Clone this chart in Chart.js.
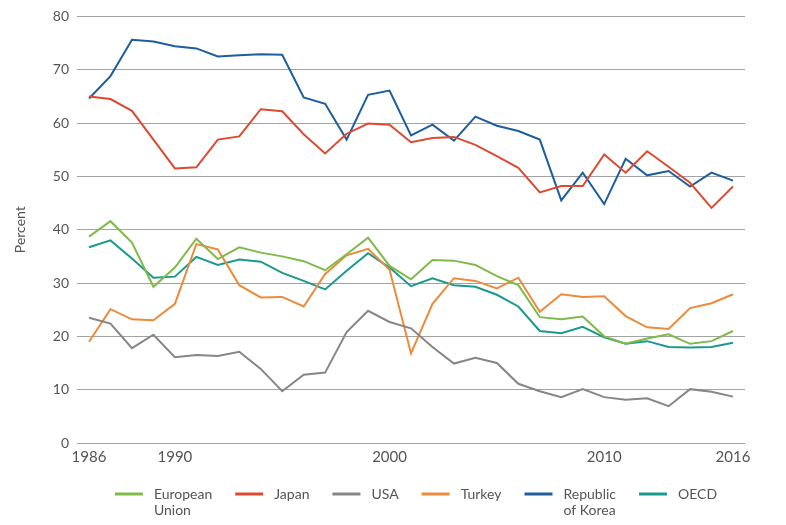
<!DOCTYPE html>
<html>
<head>
<meta charset="utf-8">
<script src="https://cdn.jsdelivr.net/npm/chart.js@4"></script>
<style>
  html, body { margin: 0; padding: 0; background: #fff; }
  #wrap { width: 786px; height: 525px; }
</style>
</head>
<body>
<div id="wrap"><canvas id="myChart" width="786" height="525"></canvas></div>
<script>
const years = [1986,1987,1988,1989,1990,1991,1992,1993,1994,1995,1996,1997,1998,1999,2000,
               2001,2002,2003,2004,2005,2006,2007,2008,2009,2010,2011,2012,2013,2014,2015,2016];
const yearTicks = [1986, 1990, 2000, 2010, 2016];

const europeanUnion = [38.7,41.6,37.6,29.3,32.9,38.3,34.5,36.7,35.7,35.0,34.1,32.4,35.4,38.5,33.2,
                       30.7,34.3,34.2,33.4,31.3,29.6,23.6,23.2,23.7,20.0,18.6,19.6,20.4,18.6,19.1,21.0];
const japan = [65.0,64.5,62.3,56.9,51.5,51.7,56.9,57.5,62.6,62.2,57.9,54.3,58.0,59.9,59.7,
               56.4,57.2,57.4,55.9,53.8,51.6,47.0,48.2,48.2,54.1,50.7,54.7,51.8,48.8,44.1,48.1];
const usa = [23.5,22.4,17.8,20.3,16.1,16.5,16.3,17.1,13.9,9.7,12.8,13.2,20.8,24.8,22.7,
             21.5,18.0,14.9,16.0,15.0,11.1,9.7,8.6,10.1,8.6,8.1,8.4,6.9,10.1,9.6,8.7];
const turkey = [19.0,25.1,23.2,23.0,26.1,37.3,36.3,29.6,27.3,27.4,25.6,31.7,35.2,36.4,32.5,
                16.8,26.1,30.9,30.4,29.0,31.0,24.6,27.9,27.4,27.5,23.8,21.7,21.4,25.3,26.2,27.9];
const korea = [64.6,68.8,75.6,75.3,74.4,74.0,72.5,72.7,72.9,72.8,64.8,63.6,56.9,65.3,66.1,
               57.7,59.7,56.7,61.2,59.5,58.5,56.9,45.5,50.7,44.8,53.3,50.2,51.0,48.1,50.7,49.2];
const oecd = [36.7,38.0,34.6,31.0,31.2,34.9,33.4,34.4,34.0,31.9,30.4,28.8,32.3,35.6,32.9,
              29.4,30.9,29.6,29.3,27.8,25.6,21.0,20.6,21.8,19.8,18.6,19.1,18.0,17.9,18.0,18.8];

const seriesNames = [['European', 'Union'], ['Japan'], ['USA'], ['Turkey'], ['Republic', 'of Korea'], ['OECD']];
const seriesValues = [europeanUnion, japan, usa, turkey, korea, oecd];
const seriesColors = ['#7fba4b', '#db4a31', '#868686', '#eb8b3b', '#1d5e9d', '#1a9a8d'];

const textColor = '#555';
const fontFamily = 'Lato, "Open Sans", sans-serif';

function toPoints(values) {
    return values.map((v, i) => ({x: years[i], y: v}));
}

const datasets = seriesValues.map((vals, i) => ({
    label: seriesNames[i].join(' '),
    data: toPoints(vals),
    borderColor: seriesColors[i],
    backgroundColor: seriesColors[i],
    borderWidth: 2,
    pointRadius: 0,
    tension: 0,
    fill: false
}));

// legend drawn by hand so labels can wrap on two lines
const bottomLegend = {
    id: 'bottomLegend',
    afterDraw(chart) {
        const ctx = chart.ctx;
        const area = chart.chartArea;
        ctx.save();
        ctx.font = '14px ' + fontFamily;
        const lineW = 28, gapText = 11, gapItem = 23, lineH = 16;
        const widths = seriesNames.map(lines => Math.max(...lines.map(t => ctx.measureText(t).width)));
        let total = widths.reduce((a, b) => a + b, 0) + seriesNames.length * (lineW + gapText) + gapItem * (seriesNames.length - 1);
        let x = (area.left + area.right) / 2 - total / 2 + 5;
        const y = 494;
        seriesNames.forEach((lines, i) => {
            ctx.strokeStyle = seriesColors[i];
            ctx.lineWidth = 3;
            ctx.beginPath();
            ctx.moveTo(x, y);
            ctx.lineTo(x + lineW, y);
            ctx.stroke();
            ctx.fillStyle = textColor;
            ctx.textBaseline = 'middle';
            ctx.textAlign = 'left';
            lines.forEach((t, j) => ctx.fillText(t, x + lineW + gapText, y + j * lineH));
            x += lineW + gapText + widths[i] + gapItem;
        });
        ctx.restore();
    }
};

new Chart('myChart', {
    type: 'line',
    data: { datasets: datasets },
    options: {
        responsive: false,
        animation: false,
        layout: { padding: { top: 15, right: 41, bottom: 0, left: 0 } },
        plugins: {
            legend: { display: false },
            tooltip: { enabled: false }
        },
        scales: {
            x: {
                type: 'linear',
                min: 1985.44,
                max: 2016.56,
                afterBuildTicks: axis => { axis.ticks = yearTicks.map(v => ({value: v})); },
                afterFit: axis => { axis.height = 82; },
                grid: { display: false, drawTicks: false },
                border: { display: false },
                ticks: {
                    autoSkip: false,
                    maxRotation: 0,
                    padding: 5,
                    color: textColor,
                    font: { family: fontFamily, size: 15 },
                    callback: v => String(v)
                }
            },
            y: {
                min: 0,
                max: 80,
                afterFit: axis => { axis.width = 77; },
                grid: { color: '#a3a3a3', lineWidth: 1, drawTicks: false },
                border: { display: false },
                ticks: {
                    stepSize: 10,
                    padding: 8,
                    color: textColor,
                    font: { family: fontFamily, size: 14 }
                },
                title: {
                    display: true,
                    text: 'Percent',
                    color: textColor,
                    padding: { top: 12, bottom: 0 },
                    font: { family: fontFamily, size: 14 }
                }
            }
        }
    },
    plugins: [bottomLegend]
});
</script>
</body>
</html>
